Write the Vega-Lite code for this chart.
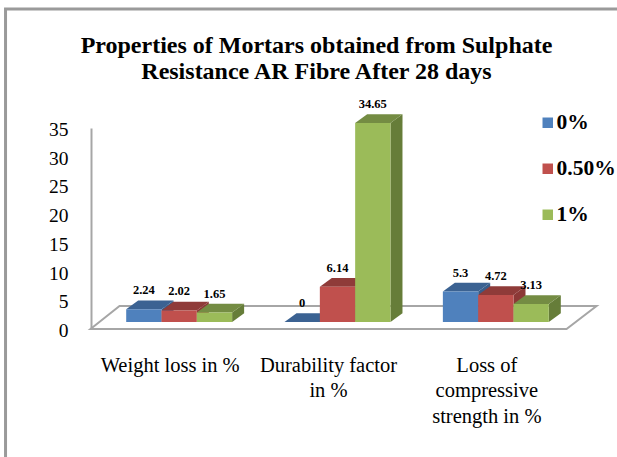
{
"$schema":"https://vega.github.io/schema/vega-lite/v6.json",
"width":475,"height":201,
"autosize":{"type":"none"},
"padding":{"left":100,"top":128,"right":42,"bottom":128},
"background":"white",
"title":{"text":["Properties of Mortars obtained from Sulphate","Resistance AR Fibre After 28 days"],"font":"Liberation Serif","fontSize":24,"fontWeight":"bold","color":"#000000","lineHeight":26,"anchor":"middle","dx":-21,"offset":-81},
"config":{"view":{"stroke":null}},
"data":{"values":[
{"category":"Weight loss in %","series":"0%","value":2.24},
{"category":"Weight loss in %","series":"0.50%","value":2.02},
{"category":"Weight loss in %","series":"1%","value":1.65},
{"category":"Durability factor in %","series":"0%","value":0},
{"category":"Durability factor in %","series":"0.50%","value":6.14},
{"category":"Durability factor in %","series":"1%","value":34.65},
{"category":"Loss of compressive strength in %","series":"0%","value":5.3},
{"category":"Loss of compressive strength in %","series":"0.50%","value":4.72},
{"category":"Loss of compressive strength in %","series":"1%","value":3.13}
]},
"encoding":{
"x":{"field":"category","type":"nominal","sort":["Weight loss in %","Durability factor in %","Loss of compressive strength in %"],"scale":{"paddingInner":0.331,"paddingOuter":0.1655},"axis":{"title":null,"labelAngle":0,"domain":false,"ticks":false,"labelFont":"Liberation Serif","labelFontSize":20.5,"labelColor":"#000000","labelPadding":36,"labelOffset":-9,"labelLineHeight":25.5,"labelLimit":300,"labelBaseline":"middle","labelExpr":"datum.label == 'Durability factor in %' ? ['Durability factor','in %'] : datum.label == 'Loss of compressive strength in %' ? ['Loss of','compressive','strength in %'] : datum.label"}},
"xOffset":{"field":"series","type":"nominal","sort":["0%","0.50%","1%"]},
"y":{"field":"value","type":"quantitative","scale":{"domain":[0,35],"nice":false},"axis":{"title":null,"offset":9,"values":[0,5,10,15,20,25,30,35],"grid":false,"ticks":false,"domain":true,"domainColor":"#a6a6a6","domainWidth":2,"labelFont":"Liberation Serif","labelFontSize":19.5,"labelColor":"#000000","labelPadding":23,"labelOffset":1.5}}
},
"layer":[
{"data":{"values":[{"category":"Durability factor in %","value":0}]},
 "mark":{"type":"point","filled":false,"fill":null,"stroke":"#a6a6a6","strokeWidth":2,"size":4,"opacity":1,
  "shape":"M-194,0 L-165,-23 L312,-23 L282,0 Z"},
 "encoding":{"xOffset":{"value":0}}},
{"data":{"values":[{"category":"Durability factor in %","value":0}]},
 "mark":{"type":"point","filled":false,"fill":null,"stroke":"#9a9a9a","strokeWidth":3,"size":4,"opacity":1,
  "shape":"M-279,128 L-279,-320 L344,-320"},
 "encoding":{"xOffset":{"value":0}}},
{"mark":{"type":"point","filled":true,"opacity":1,"strokeWidth":0,"size":4,
  "shape":{"expr":"'M17.67,-7 L29.67,-15.7 L29.67,' + (datum.value*5.743-15.7) + ' L17.67,' + (datum.value*5.743-7) + ' Z'"}},
 "encoding":{"fill":{"field":"series","type":"nominal","scale":{"domain":["0%","0.50%","1%"],"range":["#385d8a","#8c3836","#667d39"]},"legend":null}}},
{"mark":{"type":"point","filled":true,"opacity":1,"strokeWidth":0,"size":4,
  "shape":"M-17.67,-7 L17.67,-7 L29.67,-15.7 L-5.67,-15.7 Z"},
 "encoding":{"fill":{"field":"series","type":"nominal","scale":{"domain":["0%","0.50%","1%"],"range":["#3b6292","#8f3b39","#748c43"]},"legend":null}}},
{"mark":{"type":"bar","yOffset":-7,"y2Offset":-7},
 "encoding":{"fill":{"field":"series","type":"nominal","scale":{"domain":["0%","0.50%","1%"],"range":["#4f81bd","#c0504d","#9bbb59"]},
   "legend":{"title":null,"orient":"none","legendX":437,"legendY":-16,"symbolType":"square","symbolSize":110,"symbolStrokeWidth":0,"labelFont":"Liberation Serif","labelFontWeight":"bold","labelFontSize":21.5,"labelColor":"#000000","labelOffset":-2,"labelLimit":200,"rowPadding":23,"padding":0,"offset":0}}}},
{"mark":{"type":"text","font":"Liberation Serif","fontWeight":"bold","fontSize":12.5,"color":"#000000","baseline":"middle","dy":-26},
 "encoding":{"text":{"field":"value","type":"quantitative"}}}
],
"resolve":{"scale":{"fill":"independent"}}
}
